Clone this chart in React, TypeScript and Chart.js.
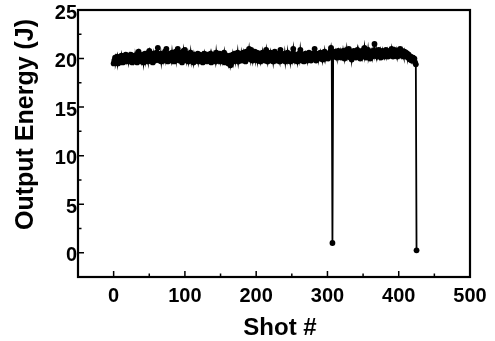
import React, { useEffect, useRef } from "react";
import { Chart, registerables } from "chart.js";

Chart.register(...registerables);

// Output energy (J) for shots 0..425
const energy: number[] = [
  19.5, 19.8, 20.1, 19.6, 19.9, 20.2, 19.5, 19.8, 20.1, 19.6,
  19.9, 20.3, 19.7, 19.6, 20.2, 20.0, 19.7, 20.4, 19.8, 20.1,
  20.3, 19.7, 20.2, 19.8, 20.4, 20.0, 19.6, 20.3, 19.8, 20.2,
  19.7, 20.3, 20.0, 19.6, 20.5, 20.7, 20.1, 19.8, 20.3, 19.7,
  20.0, 20.4, 19.6, 20.2, 20.5, 19.8, 20.3, 20.0, 19.7, 20.6,
  20.8, 20.1, 19.8, 20.4, 20.0, 19.6, 20.5, 20.2, 19.8, 20.2,
  20.6, 20.2, 21.1, 20.4, 19.8, 20.1, 20.5, 19.7, 20.3, 20.0,
  20.4, 19.8, 20.7, 20.1, 21.0, 20.2, 19.7, 20.4, 20.0, 20.5,
  20.1, 19.8, 20.6, 20.0, 20.3, 19.7, 20.4, 20.7, 19.9, 20.5,
  21.0, 20.1, 19.8, 20.4, 20.0, 20.6, 19.6, 20.3, 20.8, 20.0,
  20.9, 20.2, 19.8, 20.5, 20.1, 19.7, 20.4, 20.0, 20.6, 19.8,
  20.3, 20.0, 19.6, 20.4, 20.1, 19.8, 20.3, 20.0, 20.5, 19.7,
  20.1, 20.4, 19.8, 20.0, 20.3, 19.6, 20.2, 20.5, 19.8, 20.0,
  20.3, 19.7, 20.4, 20.0, 19.8, 20.2, 20.5, 19.6, 20.3, 20.0,
  19.8, 20.4, 20.1, 19.7, 20.6, 20.0, 20.3, 19.8, 20.1, 20.5,
  19.7, 20.0, 20.4, 19.8, 20.2, 20.6, 19.6, 20.0, 20.3, 19.7,
  20.1, 19.5, 19.9, 20.3, 19.3, 19.6, 20.0, 20.4, 19.7, 20.2,
  20.5, 19.8, 20.3, 20.0, 20.6, 19.7, 20.2, 20.4, 20.0, 20.5,
  19.8, 20.3, 20.6, 20.0, 20.4, 19.7, 20.7, 20.1, 20.3, 20.5,
  21.0, 20.3, 19.9, 20.9, 20.2, 19.8, 20.5, 20.1, 20.7, 19.9,
  20.4, 20.6, 19.8, 20.3, 20.5, 20.0, 19.7, 20.4, 20.1, 20.6,
  20.0, 20.3, 19.8, 20.5, 20.9, 20.1, 19.7, 20.4, 20.0, 20.3,
  20.6, 19.8, 20.2, 20.4, 19.7, 20.3, 20.7, 20.0, 20.4, 19.8,
  20.2, 20.5, 20.0, 19.7, 20.9, 20.3, 19.8, 20.4, 20.1, 19.9,
  20.5, 19.7, 20.3, 20.0, 20.6, 19.8, 20.2, 20.4, 19.7, 20.3,
  20.0, 20.5, 21.0, 20.1, 19.8, 20.4, 20.0, 20.3, 19.7, 20.2,
  20.5, 20.0, 20.9, 20.3, 19.8, 20.4, 20.1, 19.7, 20.3, 20.5,
  20.0, 20.4, 19.8, 20.2, 20.6, 20.0, 20.3, 19.8, 20.5, 20.1,
  20.4, 20.0, 21.0, 20.3, 19.8, 20.5, 20.1, 20.4, 20.0, 20.3,
  20.6, 20.1, 20.4, 19.9, 20.5, 20.2, 20.7, 20.0, 20.4, 20.5,
  20.3, 20.0, 20.5, 20.2, 20.7, 21.1, 20.5, 1.0, 20.2, 20.6,
  20.3, 20.7, 20.4, 20.1, 20.6, 20.8, 20.2, 20.4, 20.7, 20.1,
  20.5, 20.2, 20.8, 20.4, 20.0, 20.7, 20.3, 20.9, 20.2, 20.5,
  21.0, 20.3, 20.1, 20.7, 19.9, 20.5, 20.2, 20.8, 20.3, 20.6,
  20.1, 20.5, 20.9, 20.2, 20.7, 20.4, 20.0, 20.5, 20.8, 20.2,
  20.6, 20.3, 21.1, 20.5, 20.1, 20.7, 20.3, 20.9, 20.2, 20.5,
  20.0, 20.4, 20.7, 20.2, 20.8, 20.5, 21.5, 20.6, 20.3, 20.8,
  20.2, 20.5, 20.9, 20.3, 20.7, 20.1, 20.5, 20.8, 20.3, 20.6,
  20.2, 20.5, 20.9, 20.3, 20.7, 20.2, 20.5, 20.8, 20.3, 20.6,
  21.0, 20.4, 20.2, 20.7, 20.9, 20.3, 20.5, 20.8, 20.2, 20.6,
  20.4, 20.9, 21.0, 20.6, 20.3, 20.8, 20.5, 20.2, 20.7, 20.4,
  20.6, 20.2, 20.5, 20.1, 20.4, 20.0, 19.9, 20.2, 19.8, 20.1,
  20.1, 19.8, 20.0, 19.6, 19.4, 0.25,
];
const shots: number[] = energy.map((_, i) => i);

const xTicks = [0, 100, 200, 300, 400, 500];
const xMinorTicks = [50, 150, 250, 350, 450];
const yTicks = [0, 5, 10, 15, 20, 25];
const yMinorTicks = [2.5, 7.5, 12.5, 17.5, 22.5];
const xTitle = "Shot #";
const yTitle = "Output Energy (J)";

const FONT = '"Liberation Sans", Arial, sans-serif';

const framePlugin = {
  id: "frameAndTicks",
  afterDatasetsDraw(chart: any) {
    const { ctx, chartArea: a, scales } = chart;
    const xs = scales.x;
    const ys = scales.y;
    ctx.save();
    ctx.strokeStyle = "#000";
    ctx.lineWidth = 2.2;
    ctx.strokeRect(a.left, a.top, a.right - a.left, a.bottom - a.top);
    ctx.lineWidth = 1.5;
    ctx.beginPath();
    for (const v of xTicks) {
      const p = xs.getPixelForValue(v);
      ctx.moveTo(p, a.bottom);
      ctx.lineTo(p, a.bottom - 6);
    }
    for (const v of xMinorTicks) {
      const p = xs.getPixelForValue(v);
      ctx.moveTo(p, a.bottom);
      ctx.lineTo(p, a.bottom - 3.5);
    }
    for (const v of yTicks) {
      const p = ys.getPixelForValue(v);
      ctx.moveTo(a.left, p);
      ctx.lineTo(a.left + 6, p);
    }
    for (const v of yMinorTicks) {
      const p = ys.getPixelForValue(v);
      ctx.moveTo(a.left, p);
      ctx.lineTo(a.left + 3.5, p);
    }
    ctx.stroke();
    ctx.restore();
  },
  afterDraw(chart: any) {
    const { ctx } = chart;
    ctx.save();
    ctx.fillStyle = "#000";
    ctx.font = `bold 24px ${FONT}`;
    ctx.textAlign = "center";
    ctx.textBaseline = "alphabetic";
    ctx.fillText(xTitle, 280, 335);
    ctx.translate(33, 124.5);
    ctx.rotate(-Math.PI / 2);
    ctx.font = `bold 25px ${FONT}`;
    ctx.fillText(yTitle, 0, 0);
    ctx.restore();
  },
};

export default function App() {
  const ref = useRef<HTMLCanvasElement | null>(null);
  useEffect(() => {
    if (!ref.current) return;
    const chart = new Chart(ref.current, {
      type: "line",
      data: {
        datasets: [
          {
            data: shots.map((s, i) => ({ x: s, y: energy[i] })),
            borderColor: "#000",
            backgroundColor: "#000",
            borderWidth: 1.8,
            pointRadius: 2.9,
            pointBorderWidth: 0,
            pointBackgroundColor: "#000",
            tension: 0,
          },
        ],
      },
      options: {
        animation: false,
        responsive: false,
        layout: { padding: { top: 9, right: 25, left: 0, bottom: 0 } },
        plugins: { legend: { display: false }, tooltip: { enabled: false } },
        scales: {
          x: {
            type: "linear",
            min: -50,
            max: 500,
            grid: { display: false, drawTicks: false, tickLength: 0 },
            border: { display: false },
            afterBuildTicks: (s: any) => {
              s.ticks = xTicks.map((v) => ({ value: v }));
            },
            afterFit: (s: any) => {
              s.height = 64;
            },
            ticks: {
              color: "#000",
              padding: 7,
              maxRotation: 0,
              font: { family: FONT, size: 20, weight: "bold", lineHeight: 1.2 },
            },
          },
          y: {
            type: "linear",
            min: -2.5,
            max: 25,
            grid: { display: false, drawTicks: false, tickLength: 0 },
            border: { display: false },
            afterBuildTicks: (s: any) => {
              s.ticks = yTicks.map((v) => ({ value: v }));
            },
            afterFit: (s: any) => {
              s.width = 78;
            },
            ticks: {
              color: "#000",
              padding: 1,
              labelOffset: 3,
              font: { family: FONT, size: 20, weight: "bold", lineHeight: 0.9 },
            },
          },
        },
      },
      plugins: [framePlugin],
    });
    return () => chart.destroy();
  }, []);
  return (
    <div style={{ position: "absolute", left: 0, top: 0, width: 495, height: 341, background: "#fff" }}>
      <canvas ref={ref} width={495} height={341} style={{ display: "block" }} />
    </div>
  );
}
